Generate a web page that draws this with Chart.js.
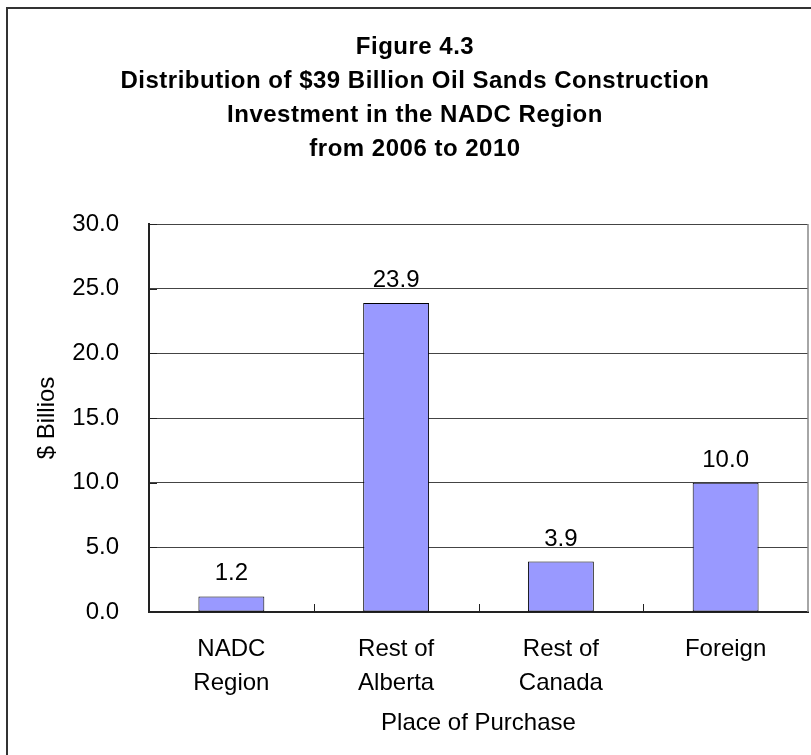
<!DOCTYPE html>
<html>
<head>
<meta charset="utf-8">
<title>Figure 4.3</title>
<script src="https://cdn.jsdelivr.net/npm/chart.js@4.4.0/dist/chart.umd.min.js"></script>
<style>
  body { margin: 0; background: #fff; }
  canvas { display: block; }
</style>
</head>
<body>
<canvas id="myChart" width="811" height="755"></canvas>
<script>
// Chart data
var titleLines = [
  "Figure 4.3",
  "Distribution of $39 Billion Oil Sands Construction",
  "Investment in the NADC Region",
  "from 2006 to 2010"
];
var categories = [["NADC", "Region"], ["Rest of", "Alberta"], ["Rest of", "Canada"], "Foreign"];
var values = [1.2, 23.9, 3.9, 10.0];
var yMin = 0, yMax = 30, yStep = 5;
var yTitle = "$ Billios";
var xTitle = "Place of Purchase";

var FONT = "'Liberation Sans', Arial, sans-serif";
Chart.defaults.font.family = FONT;
Chart.defaults.color = "#000";

// frame, title, inside tick marks and value labels
var decorations = {
  id: "decorations",
  beforeDraw: function (chart) {
    var ctx = chart.ctx;
    ctx.save();
    ctx.fillStyle = "#fff";
    ctx.fillRect(0, 0, chart.width, chart.height);
    // outer frame (right and bottom edges are cut off in the original)
    ctx.fillStyle = "#333";
    ctx.fillRect(6, 7, chart.width - 6, 2);
    ctx.fillRect(6, 7, 2, chart.height - 7);
    // title
    ctx.fillStyle = "#000";
    ctx.font = "bold 24px " + FONT;
    ctx.letterSpacing = "0.5px";
    ctx.textAlign = "center";
    ctx.textBaseline = "middle";
    for (var i = 0; i < titleLines.length; i++) {
      ctx.fillText(titleLines[i], 415, 47 + i * 34);
    }
    ctx.letterSpacing = "0px";
    ctx.restore();
  },
  afterDraw: function (chart) {
    var ctx = chart.ctx, area = chart.chartArea;
    var xs = chart.scales.x, ys = chart.scales.y;
    ctx.save();
    // right edge of the plot area
    ctx.strokeStyle = "#888";
    ctx.lineWidth = 1.5;
    ctx.beginPath();
    ctx.moveTo(area.right, area.top);
    ctx.lineTo(area.right, area.bottom);
    ctx.stroke();
    // tick marks pointing inside
    ctx.strokeStyle = "#222";
    ctx.lineWidth = 1;
    ctx.beginPath();
    for (var i = 1; i < categories.length; i++) {
      var px = Math.round((xs.getPixelForTick(i - 1) + xs.getPixelForTick(i)) / 2) + 0.5;
      ctx.moveTo(px, area.bottom);
      ctx.lineTo(px, area.bottom - 8);
    }
    for (var v = yMin; v <= yMax; v += yStep) {
      var py = Math.round(ys.getPixelForValue(v)) + 0.5;
      ctx.moveTo(area.left, py);
      ctx.lineTo(area.left + 8, py);
    }
    ctx.stroke();
    // value labels above the bars
    ctx.fillStyle = "#000";
    ctx.font = "24px " + FONT;
    ctx.textAlign = "center";
    ctx.textBaseline = "alphabetic";
    chart.getDatasetMeta(0).data.forEach(function (bar, i) {
      ctx.fillText(values[i].toFixed(1), bar.x, bar.y - 16);
    });
    ctx.restore();
  }
};

var ctx = document.getElementById("myChart").getContext("2d");
var myChart = new Chart(ctx, {
  type: "bar",
  data: {
    labels: categories,
    datasets: [
      {
        label: yTitle,
        data: values,
        backgroundColor: "#9999FF",
        borderColor: "#000",
        borderWidth: 1,
        borderSkipped: false,
        categoryPercentage: 1,
        barPercentage: 0.4
      }
    ]
  },
  options: {
    responsive: false,
    animation: false,
    devicePixelRatio: 1,
    layout: { padding: { left: 8, right: 3, top: 224, bottom: 0 } },
    plugins: {
      legend: { display: false },
      tooltip: { enabled: false },
      title: { display: false }
    },
    scales: {
      x: {
        grid: { display: false },
        border: { display: true, color: "#222", width: 2 },
        ticks: { padding: 12, font: { size: 24, lineHeight: "34px" }, maxRotation: 0, autoSkip: false },
        title: { display: true, text: xTitle, font: { size: 24 }, padding: { top: 0, bottom: 17 } },
        afterFit: function (scale) { scale.height = 143; }
      },
      y: {
        min: yMin,
        max: yMax,
        grid: { color: "#444", lineWidth: 1, drawTicks: false },
        border: { display: true, color: "#222", width: 2 },
        ticks: {
          stepSize: yStep,
          padding: 30,
          font: { size: 24 },
          callback: function (value) { return value.toFixed(1); }
        },
        title: { display: true, text: yTitle, font: { size: 24 }, padding: { top: 25, bottom: 0 } },
        afterFit: function (scale) { scale.width = 141; }
      }
    }
  },
  plugins: [decorations]
});
</script>
</body>
</html>
